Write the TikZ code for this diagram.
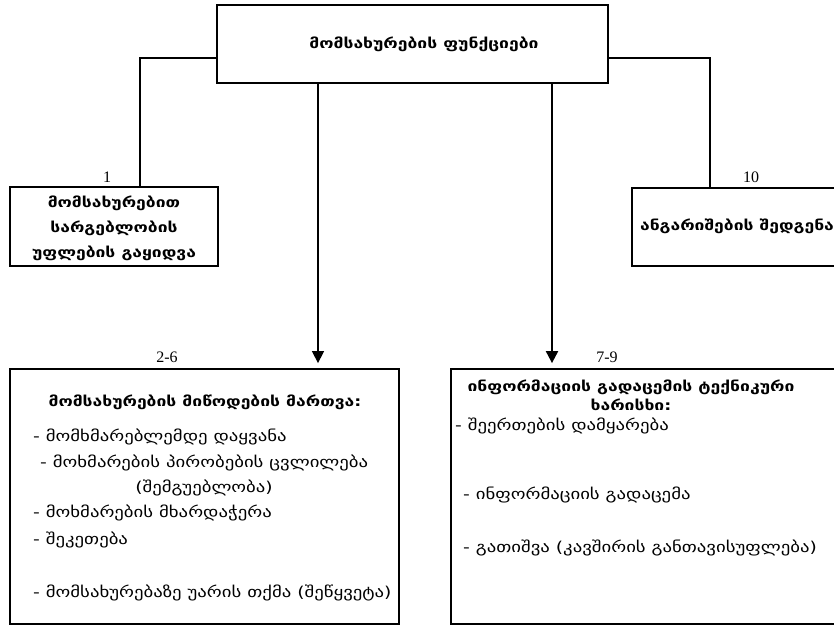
\documentclass[tikz,border=0pt]{standalone}
\usepackage{fontspec}
\setmainfont[FakeStretch=1.25]{DejaVu Sans}
\newfontfamily\numfont{Liberation Serif}
\usetikzlibrary{arrows.meta}
\tikzset{
  box/.style={draw, line width=1.8pt, inner sep=0pt, align=center},
  ttl/.style={font=\fontsize{14}{18}\selectfont\bfseries, align=center, inner sep=0pt},
  item/.style={font=\fontsize{15}{18}\selectfont, anchor=west, inner sep=0pt},
  num/.style={font=\numfont\fontsize{16}{18}\selectfont, inner sep=0pt},
  conn/.style={line width=1.3pt},
  arr/.style={line width=1.4pt, -{Triangle[width=12pt,length=12pt]}, shorten >=5pt},
}
\begin{document}
\begin{tikzpicture}[x=1pt,y=-1pt]
\useasboundingbox (0,0) rectangle (834,627);
\clip (0,0) rectangle (834,627);
% boxes
\node[box, minimum width=391pt, minimum height=78pt] (top) at (412.5,44) {};
\node[ttl] (toptxt) at (424,44) {მომსახურების ფუნქციები};
\node[box, minimum width=208pt, minimum height=79pt] (left) at (114,226.5) {};
\node[ttl, font=\fontsize{14}{25}\selectfont\bfseries] (lefttxt) at (114,228) {მომსახურებით\\სარგებლობის\\უფლების გაყიდვა};
\node[box, minimum width=214pt, minimum height=78pt] (right) at (739,227) {};
\node[ttl] (righttxt) at (737,226) {ანგარიშების შედგენა};
\node[box, minimum width=389pt, minimum height=255pt] (bl) at (204.5,496.5) {};
\node[box, minimum width=395pt, minimum height=255pt] (br) at (648.5,496.5) {};
% texts bottom-left
\node[ttl] (bltitle) at (205,402) {მომსახურების მიწოდების მართვა:};
\node[item] (b1) at (33,437) {- მომხმარებლემდე დაყვანა};
\node[item] (b2) at (40,463) {- მოხმარების პირობების ცვლილება};
\node[item, anchor=center] (b2b) at (204,488) {(შემგუებლობა)};
\node[item] (b3) at (33,513) {- მოხმარების მხარდაჭერა};
\node[item] (b4) at (33,540) {- შეკეთება};
\node[item] (b5) at (33,593) {- მომსახურებაზე უარის თქმა (შეწყვეტა)};
% texts bottom-right
\node[ttl, font=\fontsize{14}{19}\selectfont\bfseries] (brtitle) at (631,395) {ინფორმაციის გადაცემის ტექნიკური\\ხარისხი:};
\node[item] (r1) at (455,426) {- შეერთების დამყარება};
\node[item] (r2) at (463,495) {- ინფორმაციის გადაცემა};
\node[item] (r3) at (463,548) {- გათიშვა (კავშირის განთავისუფლება)};
% numbers
\node[num] (n1) at (107,177) {1};
\node[num] (n10) at (751,177) {10};
\node[num] (n26) at (167,357) {2-6};
\node[num] (n79) at (607,357) {7-9};
% connectors
\coordinate (cl) at (140,58);
\coordinate (cr) at (710,58);
\draw[conn] (top.west |- cl) -- (cl) -- (left.north -| cl);
\draw[conn] (top.east |- cr) -- (cr) -- (right.north -| cr);
\coordinate (al) at (318,0);
\coordinate (ar) at (552,0);
\draw[arr] (top.south -| al) -- (bl.north -| al);
\draw[arr, line width=2pt] (top.south -| ar) -- (br.north -| ar);
\end{tikzpicture}
\end{document}
